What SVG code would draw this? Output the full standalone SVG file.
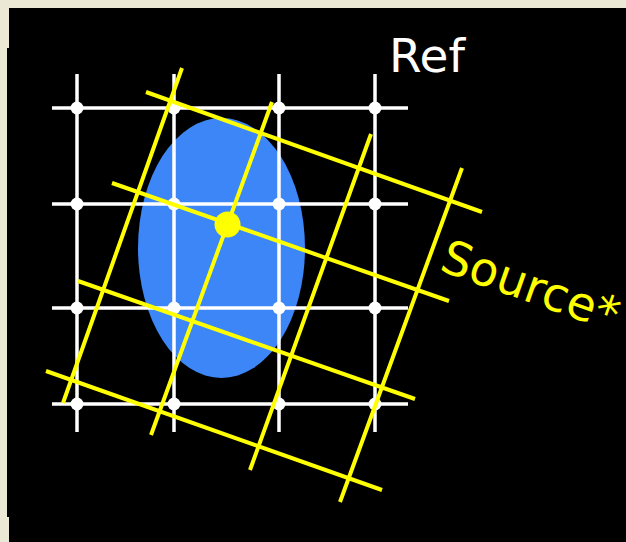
<svg xmlns="http://www.w3.org/2000/svg" width="626" height="542" viewBox="0 0 626 542">
<style>
.w{stroke:#ffffff;stroke-width:3.5;fill:none}
.y{stroke:#ffff00;stroke-width:4;fill:none}
.d{fill:#ffffff}
.t{font-family:"DejaVu Sans",sans-serif;font-size:47px}
</style>
<rect x="0" y="0" width="626" height="542" fill="#ebe8d6"/>
<rect x="9" y="8" width="617" height="534" fill="#000000"/>
<rect x="7" y="48" width="4" height="469" fill="#000000"/>
<g id="ellipse"><ellipse cx="221.5" cy="248" rx="83.5" ry="130" fill="#3d86f7"/></g>
<g id="ref-grid">
<path class="w" d="M52 108H408M52 204H408M52 308H408M52 404H408M77 74V432M174 74V432M279 74V432M375 74V432"/>
<g class="d">
<circle cx="77" cy="108" r="6.5"/><circle cx="174" cy="108" r="6.5"/><circle cx="279" cy="108" r="6.5"/><circle cx="375" cy="108" r="6.5"/>
<circle cx="77" cy="204" r="6.5"/><circle cx="174" cy="204" r="6.5"/><circle cx="279" cy="204" r="6.5"/><circle cx="375" cy="204" r="6.5"/>
<circle cx="77" cy="308" r="6.5"/><circle cx="174" cy="308" r="6.5"/><circle cx="279" cy="308" r="6.5"/><circle cx="375" cy="308" r="6.5"/>
<circle cx="77" cy="404" r="6.5"/><circle cx="174" cy="404" r="6.5"/><circle cx="279" cy="404" r="6.5"/><circle cx="375" cy="404" r="6.5"/>
</g>
</g>
<g id="source-grid">
<path class="y" d="M146 92L482 212M112 183L449 301M78 281L415 399M46 371L382 490M182 68L63 403M272 102L151 435M371 134L250 470M462 168L340 502"/>
</g>
<g id="source-point"><circle cx="227.5" cy="224.5" r="13" fill="#ffff00"/></g>
<g id="labels">
<text class="t" x="389" y="72" fill="#ffffff">Ref</text>
<text class="t" x="0" y="0" fill="#ffff00" transform="translate(438,270) rotate(19.5)">Source*</text>
</g>
</svg>
